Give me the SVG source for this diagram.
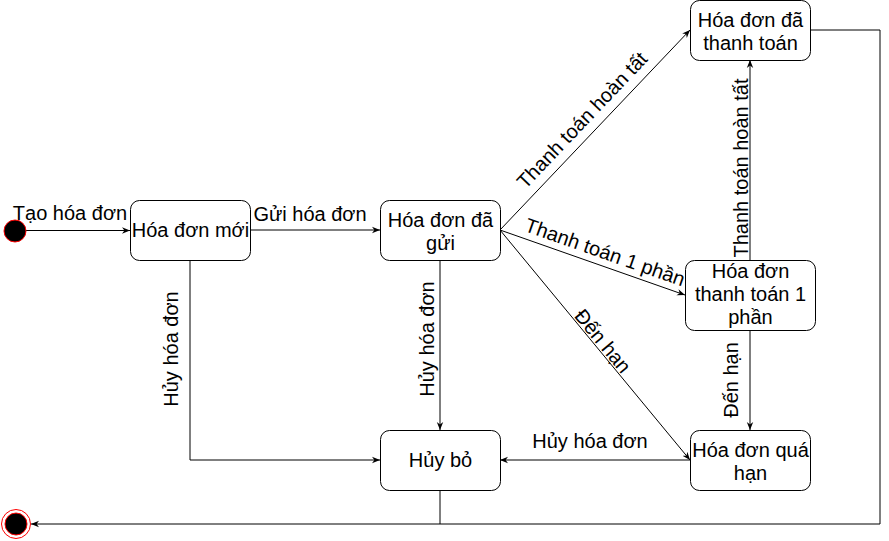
<svg xmlns="http://www.w3.org/2000/svg" width="889" height="541" viewBox="0 0 889 541">
<style>
.box{fill:#fff;stroke:#000;stroke-width:1}
.t{font-family:"Liberation Sans",Arial,Helvetica,sans-serif;font-size:20px;fill:#000;text-anchor:middle}
.e{fill:none;stroke:#000;stroke-width:1}
</style>
<defs>
<marker id="arr" viewBox="0 0 10 10" refX="10" refY="5" markerWidth="8" markerHeight="8" orient="auto" markerUnits="userSpaceOnUse">
<path d="M0,1 L10,5 L0,9 L3,5 z" fill="#000"/>
</marker>
</defs>
<rect width="889" height="541" fill="#fff"/>
<g id="connectors">
<path class="e" d="M26,230.5 L130,230.5" marker-end="url(#arr)"/>
<path class="e" d="M250,230 L380,230" marker-end="url(#arr)"/>
<path class="e" d="M500,230 L690,30" marker-end="url(#arr)"/>
<path class="e" d="M500,230 L685,295" marker-end="url(#arr)"/>
<path class="e" d="M500,230 L690,460" marker-end="url(#arr)"/>
<path class="e" d="M750,260 L750,60" marker-end="url(#arr)"/>
<path class="e" d="M750,330 L750,430" marker-end="url(#arr)"/>
<path class="e" d="M690,460 L500,460" marker-end="url(#arr)"/>
<path class="e" d="M190,260 L190,460 L380,460" marker-end="url(#arr)"/>
<path class="e" d="M440,260 L440,430" marker-end="url(#arr)"/>
<path class="e" d="M810,30 L880,30 L880,524 L31,524" marker-end="url(#arr)"/>
<path class="e" d="M440,490 L440,524"/>
<text class="t" x="70" y="220">Tạo hóa đơn</text>
<text class="t" x="310" y="221">Gửi hóa đơn</text>
<text class="t" transform="translate(582,120) rotate(-46.5)" x="0" y="7">Thanh toán hoàn tất</text>
<text class="t" transform="translate(605,252) rotate(19.4)" x="0" y="7">Thanh toán 1 phần</text>
<text class="t" transform="translate(603,341) rotate(50.4)" x="0" y="7">Đến hạn</text>
<text class="t" transform="translate(741,168) rotate(-90)" x="0" y="7">Thanh toán hoàn tất</text>
<text class="t" transform="translate(731,380) rotate(-90)" x="0" y="7">Đến hạn</text>
<text class="t" x="590" y="448">Hủy hóa đơn</text>
<text class="t" transform="translate(171,349) rotate(-90)" x="0" y="7">Hủy hóa đơn</text>
<text class="t" transform="translate(427,339) rotate(-90)" x="0" y="7">Hủy hóa đơn</text>
</g>
<g id="start">
<circle cx="15" cy="231" r="11" fill="#000" stroke="#ff0000" stroke-width="1"/>
</g>
<g id="end">
<circle cx="16" cy="524" r="14.5" fill="#fff" stroke="#ff0000" stroke-width="1"/>
<circle cx="16" cy="524" r="11" fill="#000" stroke="#ff0000" stroke-width="1"/>
</g>
<g id="hoa-don-moi">
<rect class="box" x="130.5" y="200.5" width="120" height="60" rx="9"/>
<text class="t" x="190.5" y="237">Hóa đơn mới</text>
</g>
<g id="hoa-don-da-gui">
<rect class="box" x="380.5" y="200.5" width="120" height="60" rx="9"/>
<text class="t" x="440.5" y="227">Hóa đơn đã</text>
<text class="t" x="440.5" y="250">gửi</text>
</g>
<g id="hoa-don-da-thanh-toan">
<rect class="box" x="690.5" y="0.5" width="120" height="60" rx="9"/>
<text class="t" x="750.5" y="27">Hóa đơn đã</text>
<text class="t" x="750.5" y="50">thanh toán</text>
</g>
<g id="hoa-don-thanh-toan-1-phan">
<rect class="box" x="685.5" y="260.5" width="130" height="70" rx="9"/>
<text class="t" x="750.5" y="278">Hóa đơn</text>
<text class="t" x="750.5" y="301">thanh toán 1</text>
<text class="t" x="750.5" y="324">phần</text>
</g>
<g id="hoa-don-qua-han">
<rect class="box" x="690.5" y="430.5" width="120" height="60" rx="9"/>
<text class="t" x="750.5" y="457">Hóa đơn quá</text>
<text class="t" x="750.5" y="480">hạn</text>
</g>
<g id="huy-bo">
<rect class="box" x="380.5" y="430.5" width="120" height="60" rx="9"/>
<text class="t" x="440.5" y="467">Hủy bỏ</text>
</g>
</svg>
